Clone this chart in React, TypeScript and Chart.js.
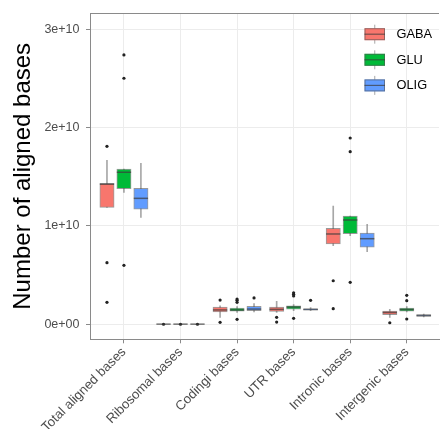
import React, { useEffect, useRef } from "react";
import { Chart, registerables } from "chart.js";

Chart.register(...registerables);

const categories = [
  "Total aligned bases",
  "Ribosomal bases",
  "Codingi bases",
  "UTR bases",
  "Intronic bases",
  "Intergenic bases",
];
const groups = ["GABA", "GLU", "OLIG"];
const groupColors = ["#F8766D", "#00BA38", "#619CFF"];
const dodge = [-0.3, 0, 0.3];

// GABA
const gabaLow = [1.189e10, 0.001e10, 0.071e10, 0.12e10, 0.8e10, 0.07e10];
const gabaQ1 = [1.189e10, 0.002e10, 0.125e10, 0.132e10, 0.816e10, 0.098e10];
const gabaMed = [1.423e10, 0.002e10, 0.146e10, 0.152e10, 0.918e10, 0.12e10];
const gabaQ3 = [1.433e10, 0.002e10, 0.176e10, 0.176e10, 0.976e10, 0.135e10];
const gabaHigh = [1.667e10, 0.003e10, 0.189e10, 0.234e10, 1.202e10, 0.152e10];
const gabaOutliers = [
  [1.809e10, 0.626e10, 0.224e10],
  [0.001e10],
  [0.247e10, 0.02e10],
  [0.071e10, 0.023e10],
  [0.443e10, 0.159e10],
  [0.016e10],
];

// GLU
const gluLow = [1.341e10, 0.001e10, 0.12e10, 0.14e10, 0.9e10, 0.125e10];
const gluQ1 = [1.378e10, 0.002e10, 0.134e10, 0.155e10, 0.921e10, 0.135e10];
const gluMed = [1.545e10, 0.002e10, 0.146e10, 0.176e10, 1.06e10, 0.15e10];
const gluQ3 = [1.578e10, 0.002e10, 0.166e10, 0.189e10, 1.101e10, 0.166e10];
const gluHigh = [1.578e10, 0.003e10, 0.18e10, 0.2e10, 1.101e10, 0.18e10];
const gluOutliers = [
  [2.737e10, 2.5e10, 0.6e10],
  [0.001e10],
  [0.257e10, 0.244e10, 0.224e10, 0.051e10],
  [0.321e10, 0.305e10, 0.288e10, 0.061e10],
  [1.893e10, 1.754e10, 0.427e10],
  [0.295e10, 0.24e10, 0.054e10],
];

// OLIG
const oligLow = [1.087e10, 0.001e10, 0.125e10, 0.14e10, 0.738e10, 0.075e10];
const oligQ1 = [1.169e10, 0.002e10, 0.138e10, 0.145e10, 0.783e10, 0.08e10];
const oligMed = [1.28e10, 0.002e10, 0.155e10, 0.152e10, 0.87e10, 0.09e10];
const oligQ3 = [1.382e10, 0.002e10, 0.183e10, 0.158e10, 0.928e10, 0.1e10];
const oligHigh = [1.636e10, 0.003e10, 0.21e10, 0.17e10, 1.016e10, 0.105e10];
const oligOutliers = [[], [0.001e10], [0.268e10], [0.244e10], [], []];

const yTicks = [0, 1e10, 2e10, 3e10];

const stats = [
  { low: gabaLow, q1: gabaQ1, med: gabaMed, q3: gabaQ3, high: gabaHigh, out: gabaOutliers },
  { low: gluLow, q1: gluQ1, med: gluMed, q3: gluQ3, high: gluHigh, out: gluOutliers },
  { low: oligLow, q1: oligQ1, med: oligMed, q3: oligQ3, high: oligHigh, out: oligOutliers },
];

const FONT = "'Liberation Sans', Arial, sans-serif";
const BORDER = "#8a8a8a";
const BOX_LINE = "rgba(85,85,85,0.6)";
const MEDIAN_LINE = "rgba(60,60,60,0.7)";
const WHISKER = "rgba(120,120,120,0.65)";

function sci(v: number): string {
  if (v === 0) return "0e+00";
  const e = Math.floor(Math.log10(Math.abs(v)));
  const m = Math.round(v / Math.pow(10, e));
  return `${m}e${e >= 0 ? "+" : "-"}${String(Math.abs(e)).padStart(2, "0")}`;
}

const boxPlugin = {
  id: "boxExtras",
  beforeDatasetsDraw(chart: any) {
    const { ctx, chartArea } = chart;
    ctx.save();
    ctx.strokeStyle = BORDER;
    ctx.lineWidth = 1;
    ctx.beginPath();
    ctx.moveTo(chartArea.left, Math.round(chartArea.top) + 0.5);
    ctx.lineTo(chartArea.right, Math.round(chartArea.top) + 0.5);
    ctx.stroke();
    ctx.restore();
  },
  afterDatasetsDraw(chart: any) {
    const { ctx } = chart;
    const y = chart.scales.y;
    ctx.save();
    ctx.strokeStyle = MEDIAN_LINE;
    ctx.lineWidth = 1.5;
    stats.forEach((s, g) => {
      const meta = chart.getDatasetMeta(g);
      meta.data.forEach((bar: any, i: number) => {
        const py = y.getPixelForValue(s.med[i]);
        ctx.beginPath();
        ctx.moveTo(bar.x - bar.width / 2, py);
        ctx.lineTo(bar.x + bar.width / 2, py);
        ctx.stroke();
      });
    });
    ctx.restore();
  },
  afterDraw(chart: any) {
    const { ctx } = chart;
    ctx.save();
    const keyLeft = 364.5;
    const keyW = 20.5;
    const rows = [34.2, 59.8, 85.4];
    groups.forEach((name, g) => {
      const cy = rows[g];
      ctx.strokeStyle = WHISKER;
      ctx.lineWidth = 1;
      ctx.beginPath();
      ctx.moveTo(keyLeft + keyW / 2, cy - 9.5);
      ctx.lineTo(keyLeft + keyW / 2, cy + 9.5);
      ctx.stroke();
      ctx.fillStyle = groupColors[g];
      ctx.fillRect(keyLeft, cy - 6, keyW, 12);
      ctx.strokeStyle = BOX_LINE;
      ctx.strokeRect(keyLeft + 0.5, cy - 5.5, keyW - 1, 11);
      ctx.strokeStyle = MEDIAN_LINE;
      ctx.lineWidth = 1.2;
      ctx.beginPath();
      ctx.moveTo(keyLeft, cy);
      ctx.lineTo(keyLeft + keyW, cy);
      ctx.stroke();
      ctx.fillStyle = "#000";
      ctx.font = `12.8px ${FONT}`;
      ctx.textBaseline = "middle";
      ctx.textAlign = "left";
      ctx.fillText(name, 396.5, cy + 0.5);
    });
    ctx.restore();
  },
};

export default function App() {
  const ref = useRef<HTMLCanvasElement | null>(null);

  useEffect(() => {
    if (!ref.current) return;
    const datasets: any[] = [];
    stats.forEach((s, g) => {
      datasets.push({
        type: "bar",
        label: groups[g],
        data: categories.map((_, i) => ({ x: i + dodge[g], y: [s.q1[i], s.q3[i]] })),
        backgroundColor: groupColors[g],
        borderColor: BOX_LINE,
        borderWidth: 1,
        borderSkipped: false,
        barThickness: 14.3,
        grouped: false,
        order: 1,
      });
    });
    stats.forEach((s, g) => {
      datasets.push({
        type: "bar",
        label: groups[g] + " whisker",
        data: categories.map((_, i) => ({ x: i + dodge[g], y: [s.low[i], s.high[i]] })),
        backgroundColor: WHISKER,
        borderWidth: 0,
        barThickness: 1,
        grouped: false,
        order: 2,
      });
    });
    stats.forEach((s, g) => {
      const pts: any[] = [];
      s.out.forEach((arr, i) => arr.forEach((v) => pts.push({ x: i + dodge[g], y: v })));
      datasets.push({
        type: "scatter",
        label: groups[g] + " outliers",
        data: pts,
        pointRadius: 1.6,
        pointBackgroundColor: "#222",
        pointBorderWidth: 0,
        showLine: false,
        order: 0,
      });
    });

    const chart = new Chart(ref.current, {
      type: "bar",
      data: { datasets },
      options: {
        animation: false,
        responsive: false,
        devicePixelRatio: 1,
        layout: { padding: { top: 13.3, left: 0, right: 0, bottom: 0 } },
        plugins: { legend: { display: false }, tooltip: { enabled: false } },
        scales: {
          x: {
            type: "linear",
            min: -0.6,
            max: 5.57,
            offset: false,
            grid: {
              offset: false,
              color: "#ececec",
              tickColor: BORDER,
              tickLength: 4,
            },
            border: { color: BORDER, width: 1 },
            afterBuildTicks: (scale: any) => {
              scale.ticks = categories.map((_, i) => ({ value: i }));
            },
            afterFit: (scale: any) => {
              scale.height = 89.7;
              scale.paddingLeft = 0;
              scale.paddingRight = 0;
            },
            ticks: {
              autoSkip: false,
              minRotation: 45,
              maxRotation: 45,
              padding: 1,
              color: "#4d4d4d",
              font: { family: FONT, size: 13.2 },
              callback: (v: any) => categories[Math.round(Number(v))] ?? "",
            },
          },
          y: {
            min: -0.152e10,
            max: 3.16e10,
            grid: { color: "#ececec", tickColor: BORDER, tickLength: 4 },
            border: { color: BORDER, width: 1 },
            afterBuildTicks: (scale: any) => {
              scale.ticks = yTicks.map((v) => ({ value: v }));
            },
            afterFit: (scale: any) => {
              scale.width = 90;
              scale.paddingTop = 0;
              scale.paddingBottom = 0;
            },
            ticks: {
              padding: 6.5,
              color: "#4d4d4d",
              font: { family: FONT, size: 12.5 },
              callback: (v: any) => sci(Number(v)),
            },
            title: {
              display: true,
              text: "Number of aligned bases",
              color: "#000",
              font: { family: FONT, size: 24 },
              padding: { top: 9, bottom: 0 },
            },
          },
        },
      } as any,
      plugins: [boxPlugin],
    });
    return () => chart.destroy();
  }, []);

  return (
    <div style={{ position: "fixed", left: 0, top: 0, width: 443, height: 429, background: "#fff" }}>
      <canvas ref={ref} width={443} height={429} style={{ display: "block" }} />
    </div>
  );
}
